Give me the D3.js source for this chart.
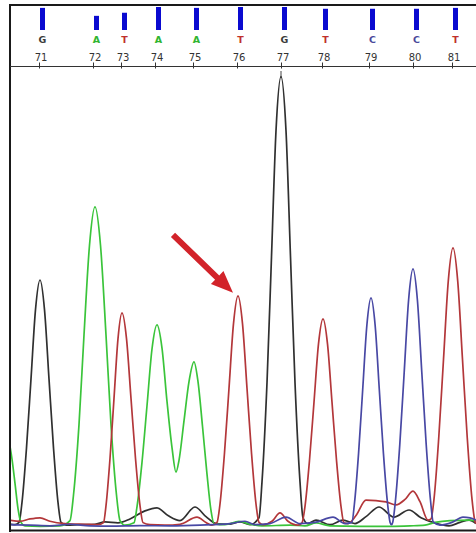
<!DOCTYPE html>
<html>
<head>
<meta charset="utf-8">
<script src="https://cdn.jsdelivr.net/npm/d3@7"></script>
<style>
html, body { margin: 0; padding: 0; background: #fff; }
svg { display: block; }
</style>
</head>
<body>
<div id="trace"></div>
<script>
// base calls in the header
var baseNumbers = [71, 72, 73, 74, 75, 76, 77, 78, 79, 80, 81];
var baseCalls = ["G", "A", "T", "A", "A", "T", "G", "T", "C", "C", "T"];
var basePeaks = [29, 83, 111, 145, 183, 227, 271, 312, 359, 403, 442];   // scan
var baseQuality = [50, 32, 39, 52, 50, 52, 52, 48, 48, 48, 50];

// traces: [scan, signal]
var traceG = [[0,12],[5,10],[9,20],[12,107],[16.5,344],[21,644],[25.5,945],[30,1074],[34.5,945],[39,644],[43.5,344],[48,107],[51,20],[56,8],[70,10],[85,12],[95,22],[108,18],[120,35],[135,70],[147,83],[158,50],[170,28],[185,87],[196,45],[206,15],[218,12],[230,22],[240,10],[249,40],[252,196],[257,627],[261.5,1175],[266,1723],[271,1958],[276,1723],[280.5,1175],[285,627],[290,196],[293,40],[298,15],[306,30],[320,10],[333,30],[345,15],[356,45],[369,87],[384,43],[399,74],[411,40],[423,20],[439,5],[450,20],[459,30],[466,15]];

var traceA = [[0,350],[2,295],[5,190],[8,80],[11,20],[15,5],[30,3],[50,5],[60,28],[63.5,139],[69,445],[74,835],[79.5,1225],[85,1392],[90.5,1225],[96,835],[101,445],[106.5,139],[110,28],[115,8],[124,18],[127,88],[132,281],[137,527],[142,774],[147,879],[152,778],[157,546],[162,345],[166,239],[169,290],[174,461],[179,632],[184,718],[188,632],[192.5,438],[197,230],[201,72],[204,15],[215,10],[229,25],[240,12],[252,5],[280,8],[295,5],[306,18],[320,5],[350,3],[380,3],[400,5],[415,8],[425,20],[440,28],[460,30],[466,25]];

var traceT = [[0,30],[10,25],[20,35],[30,40],[40,25],[55,15],[75,12],[88,10],[93.5,19],[96,93],[100,298],[104,559],[108,819],[112,931],[116.5,819],[121,559],[125.5,298],[130,93],[133,19],[140,10],[155,8],[170,12],[187,43],[196,20],[202,8],[207,20],[210,100],[214.5,322],[219,603],[223.5,884],[228,1005],[232.5,884],[237,603],[241.5,322],[246,100],[249,20],[253,10],[262,25],[270,61],[278,25],[288,8],[292,18],[295,90],[299.5,290],[304,543],[308.5,796],[313,905],[317.5,796],[322,543],[326.5,290],[331,90],[334,18],[338,15],[346,50],[356,117],[366,115],[376,109],[386,96],[395,120],[403,156],[410,110],[418,30],[421,35],[424,121],[428.75,388],[433.5,728],[438.25,1068],[443,1214],[447.75,1068],[452.5,728],[457.25,388],[462,121],[465,24],[466,15]];

var traceC = [[0,10],[20,8],[40,5],[60,12],[80,5],[100,4],[130,6],[160,5],[190,8],[220,15],[235,25],[245,10],[260,15],[276,43],[290,15],[305,20],[323,43],[335,15],[341.9,20],[344.4,100],[348.55,319],[352.7,598],[356.85,876],[361,996],[365.15,876],[369.3,598],[373.45,319],[377.6,100],[380.1,20],[381.5,10],[382.8,22],[385.4,112],[389.8,359],[394.2,673],[398.6,987],[403,1122],[407.4,987],[411.8,673],[416.2,359],[420.6,112],[423.2,22],[430,8],[442,20],[453,43],[460,40],[466,30]];

// arrow pointing at the T peak of base 76
var arrowTip = [223, 1018];

function Chromatogram(){
    var self = this;
    self.init();
}

Chromatogram.prototype.init = function(){
    var self = this;
    self.width = 476;
    self.height = 533;
    self.svg = d3.select("#trace").append("svg")
        .attr("width", self.width)
        .attr("height", self.height);

    self.xScale = d3.scaleLinear().domain([0, 466]).range([10, 476]);
    self.yScale = d3.scaleLinear().domain([0, 2000]).range([527, 67]);
    self.qScale = d3.scaleLinear().domain([0, 52]).range([0, 23]);
};

Chromatogram.prototype.baseColor = function(b){
    if (b == "G") return "#3a3a3a";
    else if (b == "A") return "#2fb52f";
    else if (b == "T") return "#c0302c";
    else return "#48489a";
};

Chromatogram.prototype.update = function(){
    var self = this;
    var svg = self.svg;
    var x = self.xScale, y = self.yScale;

    svg.append("rect").attr("width", self.width).attr("height", self.height).attr("fill", "#fff");

    svg.append("clipPath").attr("id", "plot-clip")
        .append("rect").attr("x", 11).attr("y", 67).attr("width", 470).attr("height", 463);

    // quality bars
    svg.selectAll("rect.qv").data(basePeaks).enter().append("rect")
        .attr("class", "qv")
        .attr("x", function(d){ return x(d) + 1; })
        .attr("y", function(d, i){ return 30 - self.qScale(baseQuality[i]); })
        .attr("width", 5)
        .attr("height", function(d, i){ return self.qScale(baseQuality[i]); })
        .attr("fill", "#0a0ad0");

    // called bases
    svg.selectAll("text.call").data(basePeaks).enter().append("text")
        .attr("class", "call")
        .attr("x", function(d){ return x(d) + 3.5; })
        .attr("y", 43)
        .attr("text-anchor", "middle")
        .style("font-family", "DejaVu Sans, sans-serif")
        .style("font-size", "9.5px")
        .style("font-weight", "bold")
        .attr("fill", function(d, i){ return self.baseColor(baseCalls[i]); })
        .text(function(d, i){ return baseCalls[i]; });

    // base numbers + ticks
    var axis = d3.axisTop(x)
        .tickValues(basePeaks)
        .tickSize(6)
        .tickPadding(2)
        .tickFormat(function(d, i){ return baseNumbers[i]; });
    var ag = svg.append("g").attr("transform", "translate(0,68.5)").call(axis);
    ag.select(".domain").remove();
    ag.selectAll("line").attr("stroke", "#333");
    ag.selectAll("text")
        .attr("dx", 1.5)
        .style("font-family", "DejaVu Sans, sans-serif")
        .style("font-size", "10px")
        .attr("fill", "#333");

    // cursor mark under base 77
    svg.append("line")
        .attr("x1", x(basePeaks[6])).attr("x2", x(basePeaks[6]))
        .attr("y1", 71).attr("y2", 78)
        .attr("stroke", "#444").attr("stroke-width", 1);

    // traces
    var line = d3.line()
        .x(function(d){ return x(d[0]); })
        .y(function(d){ return y(d[1]); })
        .curve(d3.curveMonotoneX);

    var traces = [
        {data: traceG, color: "#303030"},
        {data: traceA, color: "#3ac43a"},
        {data: traceT, color: "#b3373a"},
        {data: traceC, color: "#4848a4"}
    ];
    var plot = svg.append("g").attr("clip-path", "url(#plot-clip)");
    plot.selectAll("path").data(traces).enter().append("path")
        .attr("d", function(d){ return line(d.data); })
        .attr("fill", "none")
        .attr("stroke", function(d){ return d.color; })
        .attr("stroke-width", 1.7)
        .attr("stroke-linejoin", "round");

    // frame
    svg.append("line").attr("x1", 9).attr("x2", 476).attr("y1", 5).attr("y2", 5)
        .attr("stroke", "#1a1a1a").attr("stroke-width", 2);
    svg.append("line").attr("x1", 10).attr("x2", 10).attr("y1", 4).attr("y2", 532)
        .attr("stroke", "#1a1a1a").attr("stroke-width", 2);
    svg.append("line").attr("x1", 9).attr("x2", 476).attr("y1", 530.5).attr("y2", 530.5)
        .attr("stroke", "#1a1a1a").attr("stroke-width", 2);
    svg.append("line").attr("x1", 10).attr("x2", 476).attr("y1", 66.5).attr("y2", 66.5)
        .attr("stroke", "#333").attr("stroke-width", 1.2);

    // arrow
    var tx = x(arrowTip[0]), ty = y(arrowTip[1]);
    var dx = 60, dy = 58, len = Math.sqrt(dx*dx + dy*dy);
    var ux = dx/len, uy = dy/len, nx = -uy, ny = ux;
    var sx = tx - dx, sy = ty - dy;
    var headLen = 22, shaft = 3, headW = 9;
    var bx = tx - ux*headLen, by = ty - uy*headLen;
    var pts = [
        [sx + nx*shaft, sy + ny*shaft],
        [bx + nx*shaft, by + ny*shaft],
        [bx + nx*headW, by + ny*headW],
        [tx, ty],
        [bx - nx*headW, by - ny*headW],
        [bx - nx*shaft, by - ny*shaft],
        [sx - nx*shaft, sy - ny*shaft]
    ];
    svg.append("polygon")
        .attr("points", pts.map(function(p){ return p.join(","); }).join(" "))
        .attr("fill", "#d2232a");
};

var chart = new Chromatogram();
chart.update();
</script>
</body>
</html>
